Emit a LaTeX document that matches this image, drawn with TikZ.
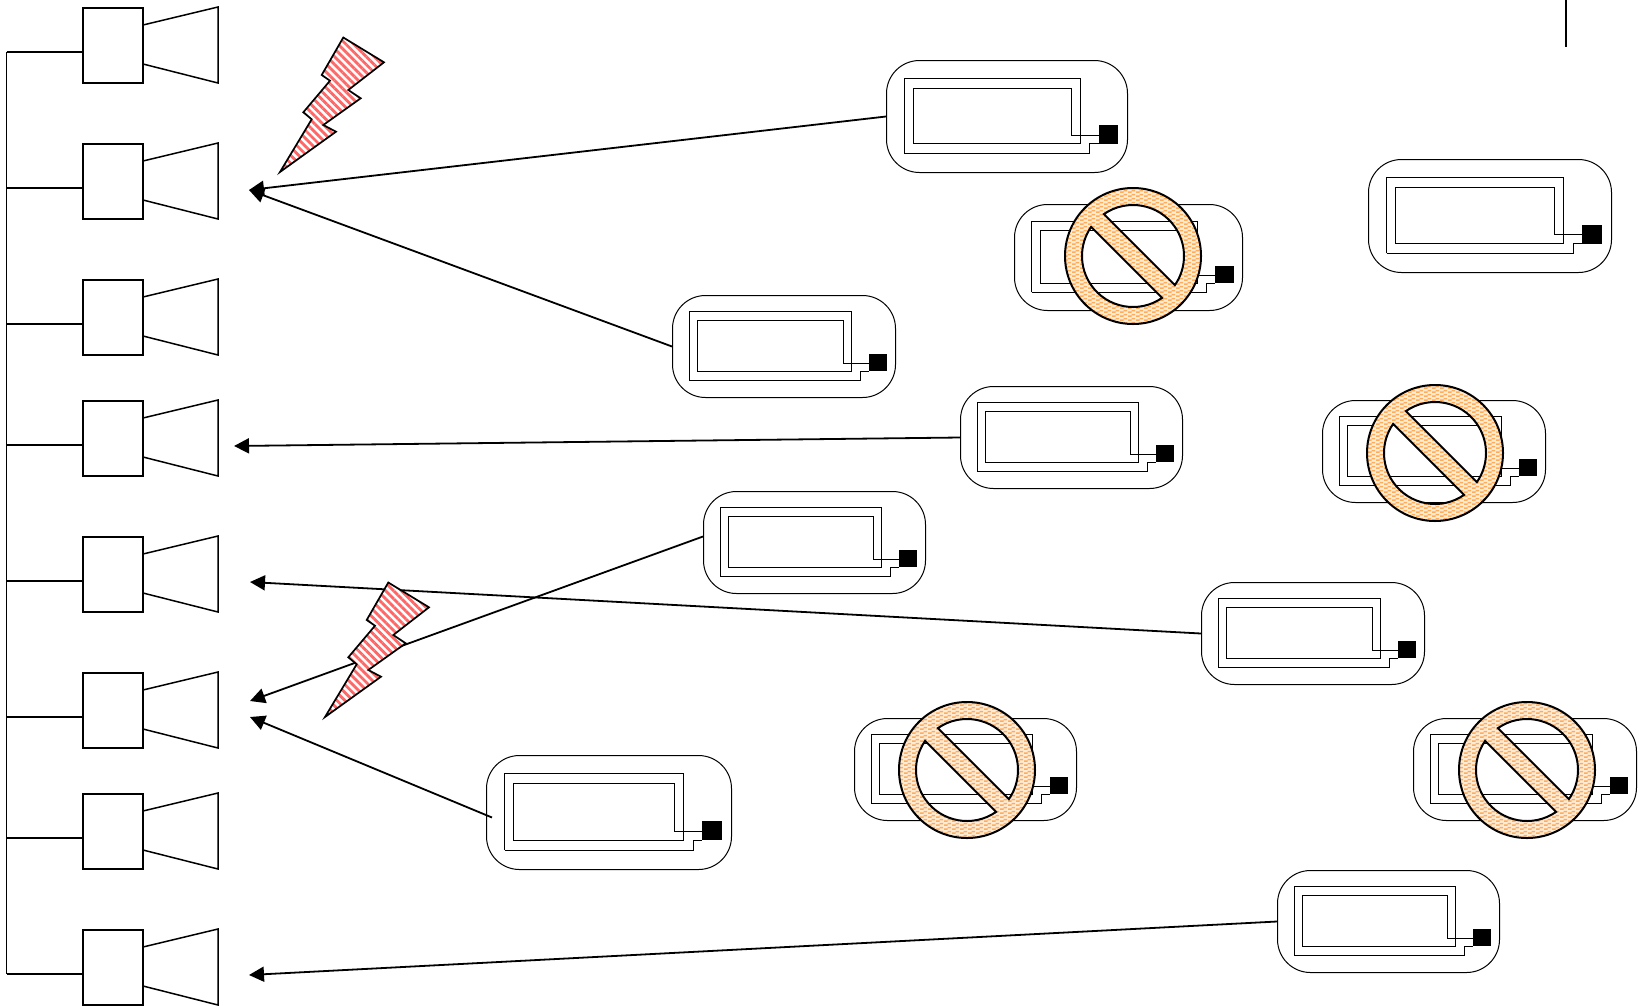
\documentclass[tikz,border=0pt]{standalone}
\usetikzlibrary{calc, arrows.meta, patterns, patterns.meta}
\pgfdeclarepatternformonly{weave}{\pgfqpoint{0pt}{0pt}}{\pgfqpoint{8pt}{4pt}}{\pgfqpoint{8pt}{4pt}}{
    \pgfpathrectangle{\pgfqpoint{0pt}{0pt}}{\pgfqpoint{4pt}{2pt}}
    \pgfpathrectangle{\pgfqpoint{4pt}{2pt}}{\pgfqpoint{4pt}{2pt}}
    \pgfusepath{fill}
}
\tikzset{
    antbox/.style={draw, line width=1.5pt, fill=white, anchor=north west, minimum width=60pt, minimum height=75pt, inner sep=0pt},
    antline/.style={line width=1.5pt},
    tagbox/.style={draw, line width=1pt, rounded corners=33pt, anchor=north west, inner sep=0pt},
    tagloop/.style={line width=.9pt},
    signal/.style={line width=1.8pt, -{Triangle[length=15pt,width=15pt]}},
    boltshape/.style={draw, line width=1.7pt, line join=miter, preaction={fill=white}, pattern={Lines[angle=-45,distance=5.6pt,line width=2.8pt]}, pattern color=red!60},
    signring/.style={draw, line width=2pt, even odd rule, preaction={fill=orange!15}, pattern=weave, pattern color=orange!65},
}
% Etikett: Name, links, oben, Breite, Hoehe
\newcommand{\rfidtag}[5]{
    \node[tagbox, minimum width=#4pt, minimum height=#5pt] (#1) at (#2,-#3) {};
    \begin{scope}[shift={(#2,-#3)}, xscale=#4/246, yscale=#5/115]
        \draw[tagloop] (19,-96) -- (19,-19) -- (198,-19) -- (198,-86) -- (28,-86) -- (28,-29) -- (189,-29) -- (189,-77) -- (217,-77);
        \draw[tagloop] (19,-96) -- (208,-96) -- (208,-86) -- (217,-86);
        \fill (217,-67) rectangle (237,-86);
    \end{scope}
}
% Verbotszeichen
\newcommand{\nosign}[2]{
    \begin{scope}[shift={(#1,-#2)}]
        \path[signring] (0,0) circle (68)
            (124.8:51) arc[start angle=124.8, end angle=-34.8, radius=51] -- cycle
            (304.8:51) arc[start angle=304.8, end angle=145.2, radius=51] -- cycle;
    \end{scope}
}
% Blitz
\newcommand{\bolt}[2]{
    \path[boltshape, shift={(#1,-#2)}] (343.3,-37.5) -- (384,-62.3) -- (348.3,-90) -- (360.7,-98.3) -- (323.3,-125) -- (336,-131.7) -- (280,-172) -- (311.7,-119.3) -- (303.3,-112.3) -- (330,-80.7) -- (321.7,-75) -- cycle;
}

\begin{document}
\begin{tikzpicture}[x=1pt, y=1pt]
\useasboundingbox (0,0) rectangle (1639,-1005);

% Antennen
\foreach \i/\t in {1/7, 2/143, 3/279, 4/400, 5/536, 6/672, 7/793, 8/929} {
    \node[antbox] (ant\i) at (82,-\t) {};
    \draw[antline] (143,-\t-18) -- (218,-\t) -- (218,-\t-76) -- (143,-\t-57);
    \coordinate (bus\i) at (6.5,-\t-45);
    \draw[antline] (bus\i) -- (bus\i -| ant\i.west);
}
\draw[antline] (bus1) -- (bus8);

% kurzer Strich oben rechts
\coordinate (marktop) at (1566,0);
\coordinate (markend) at (1566,-47);
\draw[antline] (marktop) -- (markend);

% Etiketten
\rfidtag{tagA}{886}{60}{241}{112}
\rfidtag{tagB}{1014}{204}{228}{106}
\rfidtag{tagC}{1368}{159}{243}{113}
\rfidtag{tagD}{672}{295}{223}{102}
\rfidtag{tagE}{960}{386}{222}{102}
\rfidtag{tagF}{1322}{400}{223}{102}
\rfidtag{tagG}{703}{491}{222}{102}
\rfidtag{tagH}{1201}{582}{223}{102}
\rfidtag{tagI}{854}{718}{222}{102}
\rfidtag{tagJ}{1413}{718}{223}{102}
\rfidtag{tagK}{486}{755}{245}{114}
\rfidtag{tagL}{1277}{870}{222}{102}

% Pfeilspitzen
\coordinate (tipA) at (249,-190);
\coordinate (tipE) at (234,-446);
\coordinate (tipH) at (250,-582);
\coordinate (tipG) at (250,-701);
\coordinate (tipK) at (250,-717);
\coordinate (tipL) at (249,-975);

% Pfeile
\draw[signal] (tagA.west) -- (tipA);
\draw[signal] (tagD.west) -- (tipA);
\draw[signal] (tagE.west) -- (tipE);
\draw[signal] (tagH.west) -- (tipH);
\draw[signal] ($(tagG.west)+(0,6)$) -- (tipG);
\draw[signal] ($(tagK.west)+(6,-5)$) -- (tipK);
\draw[signal] (tagL.west) -- (tipL);

% Blitze
\bolt{0}{0}
\bolt{45}{545}

% Verbotszeichen
\nosign{1133}{256}
\nosign{1435}{453}
\nosign{967}{770}
\nosign{1527}{770}

\end{tikzpicture}
\end{document}
